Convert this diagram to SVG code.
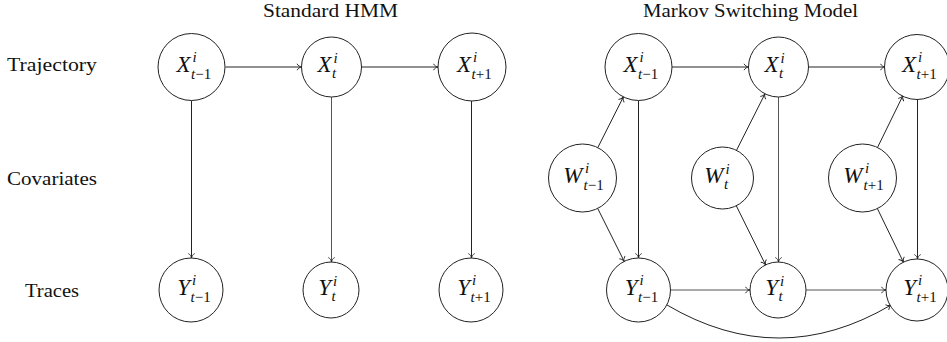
<svg xmlns="http://www.w3.org/2000/svg" width="947" height="342" viewBox="0 0 947 342">
<style>
.lbl{font-family:"Liberation Serif","Times New Roman",serif;font-size:19.5px;fill:#111}
.nd circle{fill:#fff;stroke:#222;stroke-width:1}
.m{font-family:"Liberation Serif","Times New Roman",serif;font-style:italic;font-size:23px;fill:#111}
.s{font-family:"Liberation Serif","Times New Roman",serif;font-size:15px;fill:#111}
.it{font-style:italic}
.e{fill:none;stroke:#222;stroke-width:1;marker-end:url(#ar)}
.t{stroke:#555}
</style>
<defs>
<marker id="ar" markerUnits="userSpaceOnUse" markerWidth="12" markerHeight="12" viewBox="-6 -6 12 12" refX="0" refY="0" orient="auto">
<path d="M-4.5,-3.2 C-3.5,-1.2 -1.5,-0.3 0,0 C-1.5,0.3 -3.5,1.2 -4.5,3.2" fill="none" stroke="#222" stroke-width="0.9"/>
</marker>
</defs>
<g id="labels">
<text class="lbl" x="330.5" y="17" text-anchor="middle" textLength="135" lengthAdjust="spacingAndGlyphs">Standard HMM</text>
<text class="lbl" x="750.5" y="17" text-anchor="middle" textLength="215" lengthAdjust="spacingAndGlyphs">Markov Switching Model</text>
<text class="lbl" x="7" y="71" textLength="90" lengthAdjust="spacingAndGlyphs">Trajectory</text>
<text class="lbl" x="7" y="185" textLength="90" lengthAdjust="spacingAndGlyphs">Covariates</text>
<text class="lbl" x="25" y="297" textLength="54" lengthAdjust="spacingAndGlyphs">Traces</text>
</g>
<g id="connectors">
<line class="e" x1="225.5" y1="67" x2="301.5" y2="67"/>
<line class="e" x1="361.5" y1="67" x2="438" y2="67"/>
<line class="e" x1="191.5" y1="100.5" x2="191.5" y2="258"/>
<line class="e t" x1="331.5" y1="97" x2="331.5" y2="262"/>
<line class="e" x1="471.5" y1="101" x2="471.5" y2="258"/>
<line class="e" x1="672" y1="67" x2="748.5" y2="67"/>
<line class="e" x1="808.5" y1="67" x2="885" y2="67"/>
<line class="e" x1="638.5" y1="100.5" x2="638.5" y2="258"/>
<line class="e t" x1="778.5" y1="97" x2="778.5" y2="262"/>
<line class="e" x1="917.5" y1="99" x2="917.5" y2="259"/>
<line class="e" x1="597.8" y1="147.6" x2="623.4" y2="96.9"/>
<line class="e" x1="597.7" y1="208.4" x2="624.2" y2="261.4"/>
<line class="e" x1="736.5" y1="150.3" x2="765" y2="93.8"/>
<line class="e" x1="736.3" y1="205.8" x2="765.6" y2="264.9"/>
<line class="e" x1="877.5" y1="147.5" x2="902.9" y2="95.7"/>
<line class="e" x1="877.4" y1="208.6" x2="903.4" y2="262.1"/>
<line class="e t" x1="670.5" y1="290" x2="750" y2="290"/>
<line class="e t" x1="806" y1="290" x2="886" y2="290"/>
<path class="e" d="M667,305 Q779,371 891,305"/>
</g>
<g id="X1" class="nd"><circle cx="191.5" cy="67" r="33.5"/><text class="m" x="190.5" y="72" text-anchor="end">X</text><text class="s it" x="192.5" y="62">i</text><text class="s" x="191" y="79"><tspan class="it">t</tspan>−1</text></g>
<g id="X2" class="nd"><circle cx="331.5" cy="67" r="30"/><text class="m" x="331.5" y="72" text-anchor="end">X</text><text class="s it" x="333.5" y="63">i</text><text class="s it" x="332" y="78">t</text></g>
<g id="X3" class="nd"><circle cx="472" cy="67" r="34"/><text class="m" x="471" y="72" text-anchor="end">X</text><text class="s it" x="473" y="62">i</text><text class="s" x="471.5" y="79"><tspan class="it">t</tspan>+1</text></g>
<g id="Y1" class="nd"><circle cx="191" cy="290" r="32"/><text class="m" x="190" y="295" text-anchor="end">Y</text><text class="s it" x="192" y="285">i</text><text class="s" x="190.5" y="302"><tspan class="it">t</tspan>−1</text></g>
<g id="Y2" class="nd"><circle cx="331" cy="290" r="28"/><text class="m" x="331" y="295" text-anchor="end">Y</text><text class="s it" x="333" y="286">i</text><text class="s it" x="331.5" y="301">t</text></g>
<g id="Y3" class="nd"><circle cx="471" cy="290" r="32"/><text class="m" x="470" y="295" text-anchor="end">Y</text><text class="s it" x="472" y="285">i</text><text class="s" x="470.5" y="302"><tspan class="it">t</tspan>+1</text></g>
<g id="MX1" class="nd"><circle cx="638.5" cy="67" r="33.5"/><text class="m" x="637.5" y="72" text-anchor="end">X</text><text class="s it" x="639.5" y="62">i</text><text class="s" x="638" y="79"><tspan class="it">t</tspan>−1</text></g>
<g id="MX2" class="nd"><circle cx="778.5" cy="67" r="30"/><text class="m" x="778.5" y="72" text-anchor="end">X</text><text class="s it" x="780.5" y="63">i</text><text class="s it" x="779" y="78">t</text></g>
<g id="MX3" class="nd"><circle cx="917" cy="67" r="32.5"/><text class="m" x="916" y="72" text-anchor="end">X</text><text class="s it" x="918" y="62">i</text><text class="s" x="916.5" y="79"><tspan class="it">t</tspan>+1</text></g>
<g id="W1" class="nd"><circle cx="582.5" cy="178" r="34"/><text class="m" x="582.5" y="183" text-anchor="end">W</text><text class="s it" x="585" y="173">i</text><text class="s" x="583.5" y="190"><tspan class="it">t</tspan>−1</text></g>
<g id="W2" class="nd"><circle cx="722.5" cy="178" r="31"/><text class="m" x="723.5" y="183" text-anchor="end">W</text><text class="s it" x="725.5" y="174">i</text><text class="s it" x="724" y="189">t</text></g>
<g id="W3" class="nd"><circle cx="862.5" cy="178" r="34"/><text class="m" x="862.5" y="183" text-anchor="end">W</text><text class="s it" x="865" y="173">i</text><text class="s" x="863.5" y="190"><tspan class="it">t</tspan>+1</text></g>
<g id="MY1" class="nd"><circle cx="638.5" cy="290" r="32"/><text class="m" x="637.5" y="295" text-anchor="end">Y</text><text class="s it" x="639.5" y="285">i</text><text class="s" x="638" y="302"><tspan class="it">t</tspan>−1</text></g>
<g id="MY2" class="nd"><circle cx="778" cy="290" r="28"/><text class="m" x="778" y="295" text-anchor="end">Y</text><text class="s it" x="780" y="286">i</text><text class="s it" x="778.5" y="301">t</text></g>
<g id="MY3" class="nd"><circle cx="917" cy="290" r="31"/><text class="m" x="916" y="295" text-anchor="end">Y</text><text class="s it" x="918" y="285">i</text><text class="s" x="916.5" y="302"><tspan class="it">t</tspan>+1</text></g>
</svg>
